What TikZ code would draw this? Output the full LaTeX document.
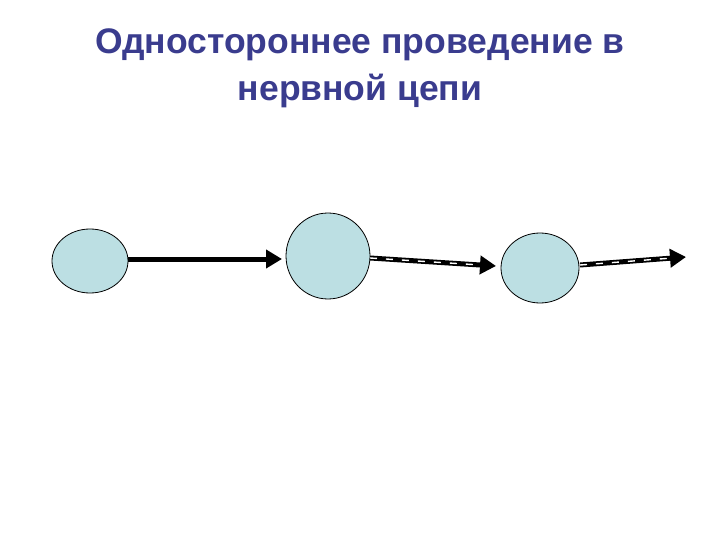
\documentclass[tikz,border=0pt]{standalone}
\usepackage{fontspec}
\setmainfont{Liberation Sans}
\usetikzlibrary{arrows.meta}
\definecolor{titleblue}{HTML}{3A3C8E}
\definecolor{cellfill}{HTML}{BCDFE3}
\tikzset{
  cell/.style={draw=black, line width=0.8pt, fill=cellfill},
  solidarrow/.style={line width=5pt, -{Triangle[length=16pt,width=18pt]}},
  whitedash/.style={draw=white, line width=1.4pt, dash pattern=on 7pt off 9pt, shorten >=16pt}
}
\begin{document}
\begin{tikzpicture}[x=1pt,y=-1pt]
\useasboundingbox (0,0) rectangle (720,540);
\node[font=\bfseries\fontsize{35.5}{47}\selectfont, text=titleblue, align=center] (title) at (360,68) {Одностороннее проведение в\\нервной цепи};
\draw[cell] (90,261) ellipse [x radius=38, y radius=32];
\draw[cell] (328,256) ellipse [x radius=42, y radius=43];
\draw[cell] (540,268) ellipse [x radius=39, y radius=35];
\coordinate (a1s) at (128,259); \coordinate (a1e) at (282,259);
\coordinate (a2s) at (370,258); \coordinate (a2e) at (496,266);
\coordinate (a3s) at (580,265); \coordinate (a3e) at (686,257);
\draw[solidarrow] (a1s) -- (a1e);
\draw[solidarrow] (a2s) -- (a2e);
\draw[whitedash] (a2s) -- (a2e);
\draw[solidarrow] (a3s) -- (a3e);
\draw[whitedash] (a3s) -- (a3e);
\end{tikzpicture}
\end{document}
